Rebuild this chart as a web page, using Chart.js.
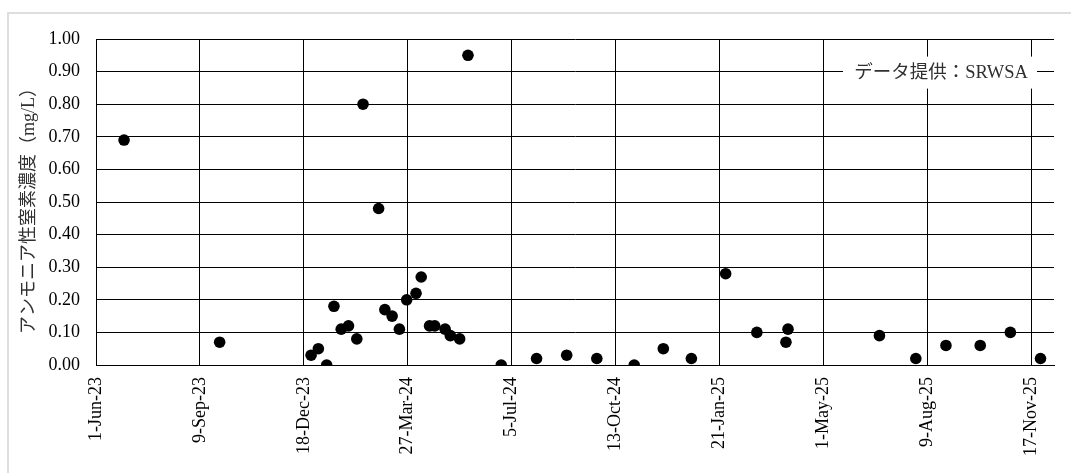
<!DOCTYPE html>
<html lang="ja">
<head>
<meta charset="utf-8">
<title>アンモニア性窒素濃度</title>
<script src="https://cdn.jsdelivr.net/npm/chart.js@4"></script>
<style>
    html, body { margin: 0; padding: 0; background: #fff; }
    #wrap { position: relative; width: 1071px; height: 473px; overflow: hidden; }
    #frame {
        position: absolute; left: 7px; top: 12px; width: 1200px; height: 600px;
        border-left: 2px solid #dedede; border-top: 2px solid #dedede;
    }
    #chart { position: absolute; left: 0; top: 0; }
</style>
</head>
<body>
<div id="wrap">
    <div id="frame"></div>
    <canvas id="chart" width="1071" height="473"></canvas>
</div>
<script>
// 採水日と濃度 (mg/L)
const sampleDates = [
    '2023-06-28', '2023-09-28', '2023-12-25', '2024-01-01', '2024-01-09',
    '2024-01-16', '2024-01-23', '2024-01-30', '2024-02-07', '2024-02-13',
    '2024-02-28', '2024-03-05', '2024-03-12', '2024-03-19', '2024-03-26',
    '2024-04-04', '2024-04-09', '2024-04-17', '2024-04-22', '2024-05-02',
    '2024-05-07', '2024-05-16', '2024-05-24', '2024-06-25', '2024-07-29',
    '2024-08-27', '2024-09-25', '2024-10-31', '2024-11-28', '2024-12-25',
    '2025-01-27', '2025-02-26', '2025-03-26', '2025-03-28', '2025-06-24',
    '2025-07-29', '2025-08-27', '2025-09-29', '2025-10-28', '2025-11-26'
];
const ammonia = [
    0.69, 0.07, 0.03, 0.05, 0.00,
    0.18, 0.11, 0.12, 0.08, 0.80,
    0.48, 0.17, 0.15, 0.11, 0.20,
    0.22, 0.27, 0.12, 0.12, 0.11,
    0.09, 0.08, 0.95, 0.00, 0.02,
    0.03, 0.02, 0.00, 0.05, 0.02,
    0.28, 0.10, 0.07, 0.11, 0.09,
    0.02, 0.06, 0.06, 0.10, 0.02
];

// x軸: 2023-06-01 からの日数, 100日ごとの目盛
const axisStart = '2023-06-01';
const axisEnd = '2025-12-09';
const xTickLabels = [
    '1-Jun-23', '9-Sep-23', '18-Dec-23', '27-Mar-24', '5-Jul-24',
    '13-Oct-24', '21-Jan-25', '1-May-25', '9-Aug-25', '17-Nov-25'
];
const yTickLabels = ['0.00', '0.10', '0.20', '0.30', '0.40', '0.50', '0.60', '0.70', '0.80', '0.90', '1.00'];

const yTitle = 'アンモニア性窒素濃度（mg/L）';
const sourceNote = 'データ提供：SRWSA';

const DAY = 86400000;
const toDays = d => (Date.parse(d) - Date.parse(axisStart)) / DAY;

const points = sampleDates.map((d, i) => ({ x: toDays(d), y: ammonia[i] }));

const FONT = "'Liberation Serif', 'Times New Roman', 'Noto Sans CJK JP', serif";

// 右上の出典表示 (白い箱で罫線を隠す)
const notePlugin = {
    id: 'sourceNote',
    afterDraw(chart) {
        const { ctx, chartArea, scales } = chart;
        const boxW = 194, boxH = 32;
        const right = chartArea.right - 17;
        const cy = scales.y.getPixelForValue(0.9) + 1;
        ctx.save();
        ctx.fillStyle = '#fff';
        ctx.fillRect(right - boxW, cy - boxH / 2, boxW, boxH);
        ctx.font = `18.5px ${FONT}`;
        ctx.fillStyle = '#303030';
        ctx.textAlign = 'center';
        ctx.textBaseline = 'middle';
        ctx.fillText(sourceNote, right - boxW / 2 + 1, cy + 1);
        ctx.restore();
    }
};

new Chart(document.getElementById('chart'), {
    type: 'scatter',
    data: {
        datasets: [{
            label: sourceNote,
            data: points,
            backgroundColor: '#000',
            borderColor: '#000',
            borderWidth: 0,
            pointRadius: 5.8,
            pointHoverRadius: 5.8
        }]
    },
    options: {
        responsive: false,
        animation: false,
        devicePixelRatio: 1,
        layout: { padding: { top: 39, right: 17, left: 0, bottom: 0 } },
        plugins: {
            legend: { display: false },
            tooltip: { enabled: false }
        },
        scales: {
            x: {
                type: 'linear',
                min: 0,
                max: toDays(axisEnd),
                afterFit: scale => { scale.height = 108; },
                grid: { color: '#000', lineWidth: 1, drawTicks: false },
                border: { display: true, color: '#000', width: 1 },
                ticks: {
                    stepSize: 100,
                    includeBounds: false,
                    autoSkip: false,
                    minRotation: 90,
                    maxRotation: 90,
                    padding: 12,
                    color: '#000',
                    font: { family: FONT, size: 18 },
                    callback: (v, i) => xTickLabels[i]
                }
            },
            y: {
                min: 0,
                max: 1,
                afterFit: scale => { scale.width = 96; },
                grid: { color: '#000', lineWidth: 1, drawTicks: false },
                border: { display: true, color: '#000', width: 1 },
                ticks: {
                    stepSize: 0.1,
                    padding: 16,
                    color: '#000',
                    font: { family: FONT, size: 18 },
                    callback: (v, i) => yTickLabels[i]
                },
                title: {
                    display: true,
                    // 末尾の空白で文字列を少し下へ寄せる
                    text: yTitle + '\u2002',
                    color: '#303030',
                    padding: { top: 18, bottom: 0 },
                    font: { family: FONT, size: 18 }
                }
            }
        }
    },
    plugins: [notePlugin]
});
</script>
</body>
</html>
